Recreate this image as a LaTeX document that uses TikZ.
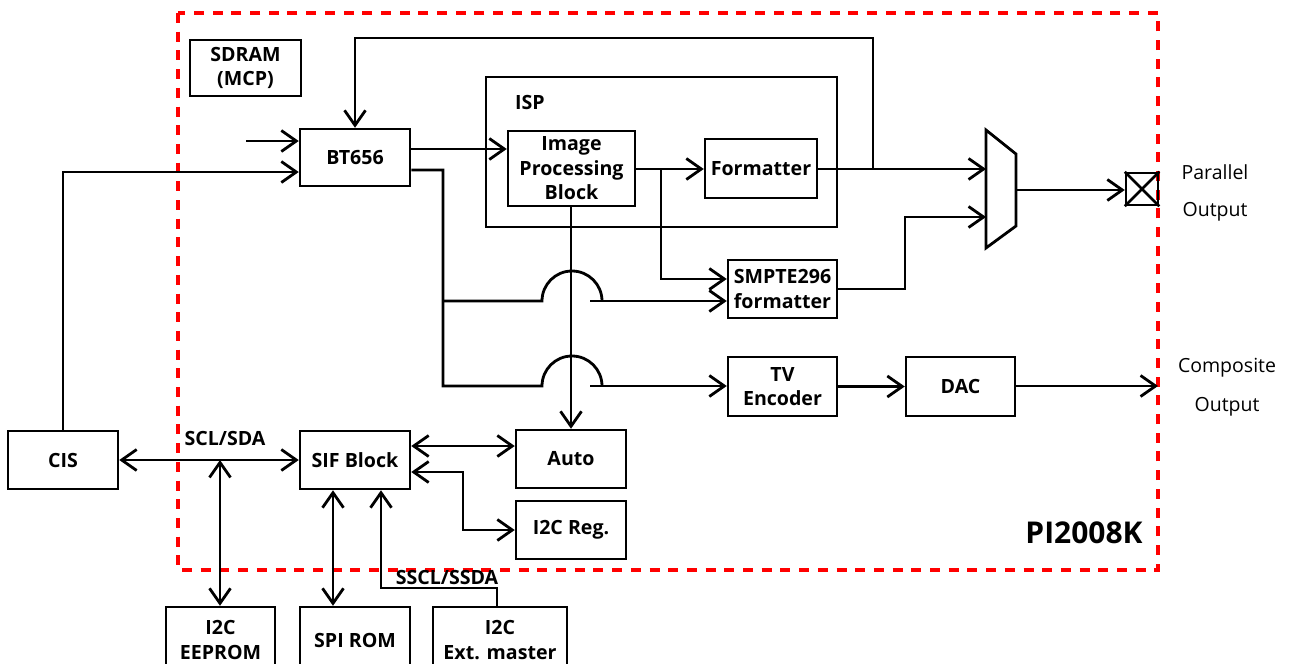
\documentclass[tikz,border=0pt]{standalone}
\usepackage{fontspec}
\setmainfont{Open Sans}
\usetikzlibrary{arrows.meta,calc}
\begin{document}
\begin{tikzpicture}[x=1pt,y=-1pt,
  line width=2.8pt,
  box/.style={draw,line width=2.5pt,align=center,inner sep=0pt,font=\fontsize{19.6}{24.5}\selectfont\bfseries},
  lbl/.style={inner sep=0pt,font=\fontsize{19.6}{24}\selectfont\bfseries},
  plain/.style={inner sep=0pt,font=\fontsize{19.5}{24}\selectfont},
  arr/.style={-{Straight Barb[length=15pt,width=21pt,line width=2.8pt]}},
  barr/.style={{Straight Barb[length=15pt,width=21pt,line width=2.8pt]}-{Straight Barb[length=15pt,width=21pt,line width=2.8pt]}}
]
\clip (0,0) rectangle (1291,664);
\fill[white] (0,0) rectangle (1291,664);
% chip outline
\draw[red,line width=3.2pt,dash pattern=on 10pt off 8.7pt] (178,13) rectangle (1158,570);
% boxes
\node[box,minimum width=111pt,minimum height=56pt] (sdram) at (245.5,68) {SDRAM\\(MCP)};
\node[box,minimum width=110pt,minimum height=57pt] (bt) at (355,157.5) {BT656};
\node[draw,line width=2.5pt,minimum width=351pt,minimum height=150pt,inner sep=0pt] (isp) at (661.5,152) {};
\node[lbl] (isplbl) at (530,102) {ISP};
\node[box,minimum width=127pt,minimum height=75pt,font=\fontsize{19.6}{24.5}\selectfont\bfseries] (ipb) at (571.5,168.5) {Image\\Processing\\Block};
\node[box,minimum width=112pt,minimum height=59pt] (fmt) at (761,168.5) {Formatter};
\node[box,minimum width=109pt,minimum height=58pt] (smpte) at (782.5,289) {SMPTE296\\formatter};
\node[box,minimum width=109pt,minimum height=59pt] (tv) at (782.5,386.5) {TV\\Encoder};
\node[box,minimum width=109pt,minimum height=59pt] (dac) at (960.5,386.5) {DAC};
\node[box,minimum width=110pt,minimum height=58pt] (cis) at (63,460) {CIS};
\node[box,minimum width=110pt,minimum height=58pt] (sif) at (355,460) {SIF Block};
\node[box,minimum width=110pt,minimum height=58pt] (auto) at (571,459) {Auto};
\node[box,minimum width=110pt,minimum height=58pt] (ireg) at (571,530) {I2C Reg.};
\node[box,minimum width=109pt,minimum height=66pt] (eeprom) at (220.5,640) {I2C\\EEPROM};
\node[box,minimum width=110pt,minimum height=66pt] (spi) at (355,640) {SPI ROM};
\node[box,minimum width=134pt,minimum height=66pt] (ext) at (500,640) {I2C\\Ext. master};
% output port
\node[draw,line width=2.5pt,minimum width=32pt,minimum height=32pt,inner sep=0pt] (out) at (1142,189) {};
\draw[line width=2.5pt] (out.north west) -- (out.south east) (out.north east) -- (out.south west);
% mux
\coordinate (muxA) at (986,169);
\coordinate (muxB) at (986,217);
\coordinate (muxO) at (1016,190);
\draw[line width=2.8pt] (986,130) -- (1016,154) -- (1016,226) -- (986,248) -- cycle;
% labels
\node[lbl] (scl) at (225,438) {SCL/SDA};
\node[lbl] (sscl) at (447,577) {SSCL/SSDA};
\node[inner sep=0pt,anchor=east,font=\fontsize{30}{36}\selectfont\bfseries] (chip) at (1144,533) {PI2008K};
\node[plain] (par1) at (1215,172) {Parallel};
\node[plain] (par2) at (1215,212) {Output};
\node[plain] (com1) at (1227,368) {Composite};
\node[plain] (com2) at (1227,407) {Output};
% connectors
\coordinate (in1) at (246,141);
\draw[arr] (in1) -- (bt.west |- in1);
\draw[arr] (cis.north) |- (bt.west |- 0,172);
\draw[arr] (bt.east |- 0,149) -- (ipb.west |- 0,149);
\draw[arr] (ipb.east |- 0,169) -- (fmt.west |- 0,169);
\draw[arr] (661,169) |- (smpte.west |- 0,279);
\draw[arr] (fmt.east |- muxA) -- (muxA);
\draw[arr] (873,169) -- (873,38) -| (bt.north);
\draw[arr] (smpte.east) -- (905,289) -- (905,217) -- (muxB);
\draw[arr] (muxO) -- (out.west |- muxO);
% BT656 second output with hops
\draw (bt.east |- 0,170) -| (443,386) -- (542,386) arc[start angle=180,end angle=0,radius=30pt];
\draw[arr] (590,386) -- (tv.west |- 0,386);
\draw (443,301) -- (542,301) arc[start angle=180,end angle=0,radius=30pt];
\draw[arr] (590,301) -- (smpte.west |- 0,301);
\draw[arr] (ipb.south -| 571,0) -- (auto.north -| 571,0);
\draw[arr] (tv.east) -- (dac.west);
\coordinate (comp) at (1158,386);
\draw[arr] (dac.east |- comp) -- (comp);
% serial interface
\coordinate (j1) at (220,460);
\draw[barr] (cis.east |- j1) -- (sif.west |- j1);
\draw[barr] (j1) -- (eeprom.north -| j1);
\draw[barr] (sif.east |- 0,446) -- (auto.west |- 0,446);
\draw[barr] (sif.east |- 0,472) -| (463,530) -- (ireg.west |- 0,530);
\draw[barr] (sif.south -| 333,0) -- (spi.north -| 333,0);
\draw[arr] (ext.north -| 497,0) |- (381,588) -- (sif.south -| 381,0);
\end{tikzpicture}
\end{document}
